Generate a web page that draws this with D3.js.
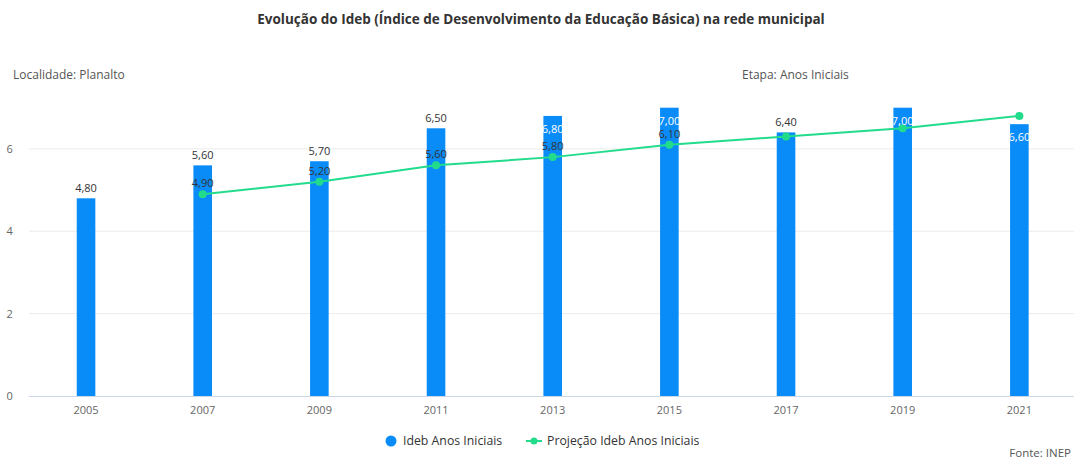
<!DOCTYPE html>
<html>
<head>
<meta charset="utf-8">
<script src="https://cdn.jsdelivr.net/npm/d3@7/dist/d3.min.js"></script>
<style>
  html, body { margin: 0; padding: 0; background: #fff; }
  svg { display: block; font-family: "Open Sans", "Noto Sans", sans-serif; }
</style>
</head>
<body>
<svg id="chart" width="1074" height="460"></svg>
<script>
// Ideb results and projections for the municipal network (Anos Iniciais)
const years = ["2005", "2007", "2009", "2011", "2013", "2015", "2017", "2019", "2021"];
const ideb = [4.8, 5.6, 5.7, 6.5, 6.8, 7.0, 6.4, 7.0, 6.6];
const projecao = [null, 4.9, 5.2, 5.6, 5.8, 6.1, 6.3, 6.5, 6.8];
const yTicks = [0, 2, 4, 6];

const titleText = "Evolução do Ideb (Índice de Desenvolvimento da Educação Básica) na rede municipal";
const localidade = "Localidade: Planalto";
const etapa = "Etapa: Anos Iniciais";
const legendBar = "Ideb Anos Iniciais";
const legendLine = "Projeção Ideb Anos Iniciais";
const fonte = "Fonte: INEP";

const barColor = "#0a8cf8";
const lineColor = "#22dc8c";
const fmt = v => v.toFixed(2).replace(".", ",");

const svg = d3.select("#chart");
const plot = { left: 27.7, right: 1077.7, top: 107.7, bottom: 396 };

const x = d3.scaleBand().domain(years).range([plot.left, plot.right]);
const y = d3.scaleLinear().domain([0, 7]).range([plot.bottom, plot.top]);
const cx = d => x(d) + x.bandwidth() / 2;

// Title and header notes
svg.append("text")
  .attr("x", 541).attr("y", 24)
  .attr("text-anchor", "middle")
  .attr("font-size", 13.5).attr("font-weight", "bold")
  .attr("fill", "#333")
  .text(titleText);
svg.append("text").attr("x", 13).attr("y", 79)
  .attr("font-size", 12).attr("fill", "#555").text(localidade);
svg.append("text").attr("x", 742).attr("y", 79)
  .attr("font-size", 12).attr("fill", "#555").text(etapa);

// Grid lines
svg.append("g")
  .selectAll("line")
  .data(yTicks.filter(t => t > 0))
  .join("line")
  .attr("x1", 29).attr("x2", 1074)
  .attr("y1", d => y(d)).attr("y2", d => y(d))
  .attr("stroke", "#ebebeb").attr("stroke-width", 1);

// Y axis (labels only)
const yAxis = svg.append("g")
  .attr("transform", `translate(${plot.left - 5},0)`)
  .call(d3.axisLeft(y).tickValues(yTicks).tickFormat(d3.format("d")).tickSize(0).tickPadding(10));
yAxis.select(".domain").remove();
yAxis.selectAll("text").attr("font-size", 11).attr("fill", "#666")
  .attr("font-family", "\"Open Sans\", sans-serif");

// Bars
svg.append("g")
  .selectAll("rect")
  .data(years.map((yr, i) => ({ yr, v: ideb[i] })))
  .join("rect")
  .attr("x", d => cx(d.yr) - 9.3)
  .attr("width", 18.6)
  .attr("y", d => y(d.v))
  .attr("height", d => y(0) - y(d.v))
  .attr("fill", barColor);

// X axis
const xAxis = svg.append("g")
  .attr("transform", `translate(0,${plot.bottom})`)
  .call(d3.axisBottom(x).tickSize(0).tickPadding(10));
xAxis.select(".domain").attr("stroke", "#ccd6eb").attr("d", `M29,0.5H1074`);
xAxis.selectAll("text").attr("font-size", 11).attr("fill", "#666")
  .attr("font-family", "\"Open Sans\", sans-serif");

// Projection line
const projData = years.map((yr, i) => ({ yr, v: projecao[i] })).filter(d => d.v !== null);
svg.append("path")
  .datum(projData)
  .attr("fill", "none")
  .attr("stroke", lineColor)
  .attr("stroke-width", 2)
  .attr("d", d3.line().x(d => cx(d.yr)).y(d => y(d.v)));
svg.append("g")
  .selectAll("circle")
  .data(projData)
  .join("circle")
  .attr("cx", d => cx(d.yr)).attr("cy", d => y(d.v))
  .attr("r", 4).attr("fill", lineColor);

// Bar value labels: above the bar, or inside in white when there is no room
const labelH = 12;
const barLabels = years.map((yr, i) => {
  const top = y(ideb[i]);
  let cy = top - 10, fill = "#333";
  if (cy - labelH / 2 < plot.top + 2) { cy = top + 13; fill = "#fff"; }
  return { yr, text: fmt(ideb[i]), cy, fill };
});
svg.append("g")
  .selectAll("text")
  .data(barLabels)
  .join("text")
  .attr("x", d => cx(d.yr)).attr("y", d => d.cy + 4)
  .attr("text-anchor", "middle")
  .attr("font-size", 11).attr("fill", d => d.fill)
  .text(d => d.text);

// Projection labels, hidden when they collide or leave the plot area
const projLabels = projData.map(d => ({ yr: d.yr, text: fmt(d.v), cy: y(d.v) - 11 }))
  .filter(p => {
    if (p.cy - labelH / 2 < plot.top + 2) return false;
    const b = barLabels.find(b => b.yr === p.yr);
    return Math.abs(b.cy - p.cy) >= labelH;
  });
svg.append("g")
  .selectAll("text")
  .data(projLabels)
  .join("text")
  .attr("x", d => cx(d.yr)).attr("y", d => d.cy + 4)
  .attr("text-anchor", "middle")
  .attr("font-size", 11).attr("fill", "#333")
  .text(d => d.text);

// Legend
const lg = svg.append("g").attr("font-size", 12.3).attr("fill", "#333");
lg.append("circle").attr("cx", 391).attr("cy", 441).attr("r", 5.5).attr("fill", barColor);
lg.append("text").attr("x", 403).attr("y", 445).text(legendBar);
lg.append("line").attr("x1", 526).attr("x2", 542).attr("y1", 441).attr("y2", 441)
  .attr("stroke", lineColor).attr("stroke-width", 2);
lg.append("circle").attr("cx", 534).attr("cy", 441).attr("r", 3.5).attr("fill", lineColor);
lg.append("text").attr("x", 547).attr("y", 445).text(legendLine);

// Source note, right-aligned inside the frame
svg.append("text").attr("x", 1071).attr("y", 457)
  .attr("text-anchor", "end")
  .attr("font-size", 11.5).attr("fill", "#555").text(fonte);
</script>
</body>
</html>
